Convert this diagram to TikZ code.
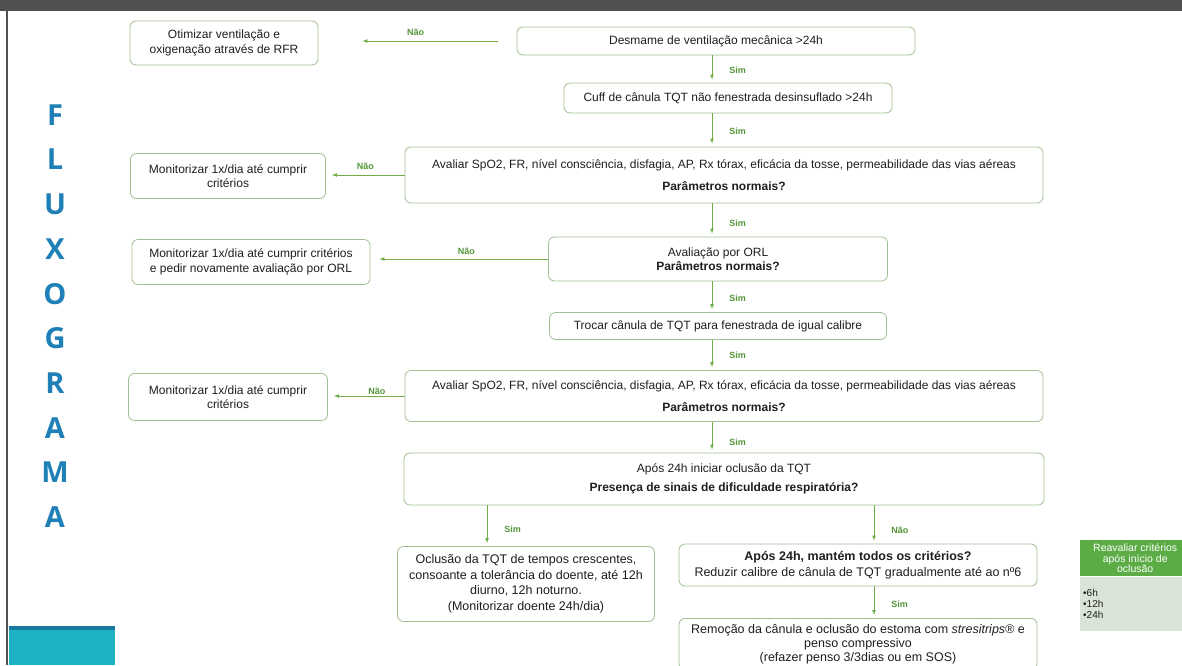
\documentclass[tikz,border=0pt]{standalone}
\usepackage{fontspec}
\setmainfont{Liberation Sans}
\newfontfamily\titulofont{Open Sans}
\usetikzlibrary{positioning,shapes}
\usetikzlibrary{arrows}
\usepackage{xcolor}
\definecolor{borda}{RGB}{160,190,145}
\definecolor{verde}{RGB}{112,173,71}
\definecolor{verdeescuro}{RGB}{84,150,56}
\definecolor{azultitulo}{RGB}{31,128,184}
\definecolor{cinzabarra}{RGB}{80,80,80}
\definecolor{verdecab}{RGB}{92,172,70}
\definecolor{verdeclaro}{RGB}{218,228,214}
\definecolor{turquesa}{RGB}{28,178,196}
\definecolor{turquesaesc}{RGB}{22,122,160}
\definecolor{texto}{RGB}{30,30,30}

\begin{document}
\begin{tikzpicture}
[x=1pt, y=-1pt,
% caixa: cada passo do fluxograma
caixa/.style={rectangle, draw=borda, line width=0.8pt, rounded corners=6pt, align=center, inner sep=3pt, text=texto, font=\fontsize{12}{14.5}\selectfont},
% seta: ligacao entre os passos
seta/.style={draw=verde, line width=0.7pt, -latex, shorten >=3pt},
% rotulo: resposta Sim / Nao junto a seta
rotulo/.style={text=verdeescuro, inner sep=1pt, font=\bfseries\fontsize{9}{10}\selectfont}
]
\useasboundingbox (0,0) rectangle (1182,665);
% moldura do diapositivo
\fill[cinzabarra] (0,0) rectangle (1182,11);
\fill[cinzabarra] (6,0) rectangle (8,665);
\fill[turquesa] (9,626) rectangle (115,665);
\fill[turquesaesc] (9,626) rectangle (115,630);

% titulo vertical
\node[text=azultitulo, align=center, inner sep=0pt, font=\titulofont\fontsize{29}{44.7}\selectfont\bfseries] (titulo) at (55,316) {F\\L\\U\\X\\O\\G\\R\\A\\M\\A};

% eixos das setas
\coordinate (eixo) at (712,0);
\coordinate (ramosim) at (487,0);
\coordinate (ramonao) at (874,0);

% passos
\node[caixa, minimum width=398pt, minimum height=28pt] (desmame) at (716,41) {Desmame de ventilação mecânica >24h};
\node[caixa, minimum width=188pt, minimum height=44pt] (otimizar) at (224,43) {Otimizar ventilação e\\oxigenação através de RFR};
\node[caixa, minimum width=328pt, minimum height=30pt] (cuff) at (728,98) {Cuff de cânula TQT não fenestrada desinsuflado >24h};
\node[caixa, minimum width=638pt, minimum height=56pt] (avaliar1) at (724,175) {Avaliar SpO2, FR, nível consciência, disfagia, AP, Rx tórax, eficácia da tosse, permeabilidade das vias aéreas\\[8pt]\textbf{Parâmetros normais?}};
\node[caixa, minimum width=195pt, minimum height=45pt] (monit1) at (228,176) {Monitorizar 1x/dia até cumprir\\critérios};
\node[caixa, minimum width=339pt, minimum height=44pt] (orl) at (718,259) {Avaliação por ORL\\\textbf{Parâmetros normais?}};
\node[caixa, minimum width=238pt, minimum height=45pt] (monit2) at (251,262) {Monitorizar 1x/dia até cumprir critérios\\e pedir novamente avaliação por ORL};
\node[caixa, minimum width=337pt, minimum height=27pt] (trocar) at (718,326) {Trocar cânula de TQT para fenestrada de igual calibre};
\node[caixa, minimum width=638pt, minimum height=51pt] (avaliar2) at (724,396) {Avaliar SpO2, FR, nível consciência, disfagia, AP, Rx tórax, eficácia da tosse, permeabilidade das vias aéreas\\[8pt]\textbf{Parâmetros normais?}};
\node[caixa, minimum width=199pt, minimum height=47pt] (monit3) at (228,397) {Monitorizar 1x/dia até cumprir\\critérios};
\node[caixa, minimum width=640pt, minimum height=52pt] (ocluir) at (724,479) {Após 24h iniciar oclusão da TQT\\[5pt]\textbf{Presença de sinais de dificuldade respiratória?}};
\node[caixa, minimum width=257pt, minimum height=75pt, font=\fontsize{12.5}{15.5}\selectfont] (tempos) at (526,584) {Oclusão da TQT de tempos crescentes,\\consoante a tolerância do doente, até 12h\\diurno, 12h noturno.\\(Monitorizar doente 24h/dia)};
\node[caixa, minimum width=358pt, minimum height=42pt, font=\fontsize{12.5}{15.5}\selectfont] (mantem) at (858,565) {\textbf{Após 24h, mantém todos os critérios?}\\Reduzir calibre de cânula de TQT gradualmente até ao nº6};
\node[caixa, anchor=north, minimum width=358pt, inner ysep=6pt, font=\fontsize{12.5}{14}\selectfont] (remocao) at (858,618) {Remoção da cânula e oclusão do estoma com \textit{stresitrips®} e\\penso compressivo\\(refazer penso 3/3dias ou em SOS)};

% caixa lateral de reavaliacao
\node[rectangle, fill=verdecab, text=white, anchor=north west, minimum width=110pt, minimum height=36pt, align=center, inner sep=1pt, font=\fontsize{10.5}{10.5}\selectfont] (cabecalho) at (1080,540) {Reavaliar critérios\\após início de\\oclusão};
\node[rectangle, fill=verdeclaro, anchor=north west, minimum width=110pt, minimum height=54pt, text width=104pt, align=left, inner sep=3pt, text=texto, font=\fontsize{10}{11}\selectfont] (lista) at (cabecalho.south west) {•6h\\•12h\\•24h};

% setas Sim
\draw[seta] (desmame.south -| eixo) -- (cuff.north -| eixo) node[rotulo, right=16pt, pos=0.55] {Sim};
\draw[seta] (cuff.south -| eixo) -- (avaliar1.north -| eixo) node[rotulo, right=16pt, pos=0.53] {Sim};
\draw[seta] (avaliar1.south -| eixo) -- (orl.north -| eixo) node[rotulo, right=16pt, pos=0.59] {Sim};
\draw[seta] (orl.south -| eixo) -- (trocar.north -| eixo) node[rotulo, right=16pt, pos=0.55] {Sim};
\draw[seta] (trocar.south -| eixo) -- (avaliar2.north -| eixo) node[rotulo, right=16pt, pos=0.52] {Sim};
\draw[seta] (avaliar2.south -| eixo) -- (ocluir.north -| eixo) node[rotulo, right=16pt, pos=0.66] {Sim};
\draw[seta] (ocluir.south -| ramosim) -- (tempos.north -| ramosim) node[rotulo, right=16pt, pos=0.58] {Sim};
\draw[seta] (ocluir.south -| ramonao) -- (mantem.north -| ramonao) node[rotulo, right=16pt, pos=0.64] {Não};
\draw[seta] (mantem.south -| ramonao) -- (remocao.north -| ramonao) node[rotulo, right=16pt, pos=0.56] {Sim};

% setas Nao
\draw[seta, shorten <=19pt, shorten >=44pt] (desmame.west) -- (desmame.west -| otimizar.east) node[rotulo, above=4pt, pos=0.51] {Não};
\draw[seta, shorten >=6pt] (avaliar1.west) -- (avaliar1.west -| monit1.east) node[rotulo, above=4pt, pos=0.5] {Não};
\draw[seta, shorten >=9pt] (orl.west) -- (orl.west -| monit2.east) node[rotulo, above=3pt, pos=0.46] {Não};
\draw[seta, shorten >=6pt] (avaliar2.west) -- (avaliar2.west -| monit3.east) node[rotulo, above=0pt, pos=0.36] {Não};
\end{tikzpicture}
\end{document}
